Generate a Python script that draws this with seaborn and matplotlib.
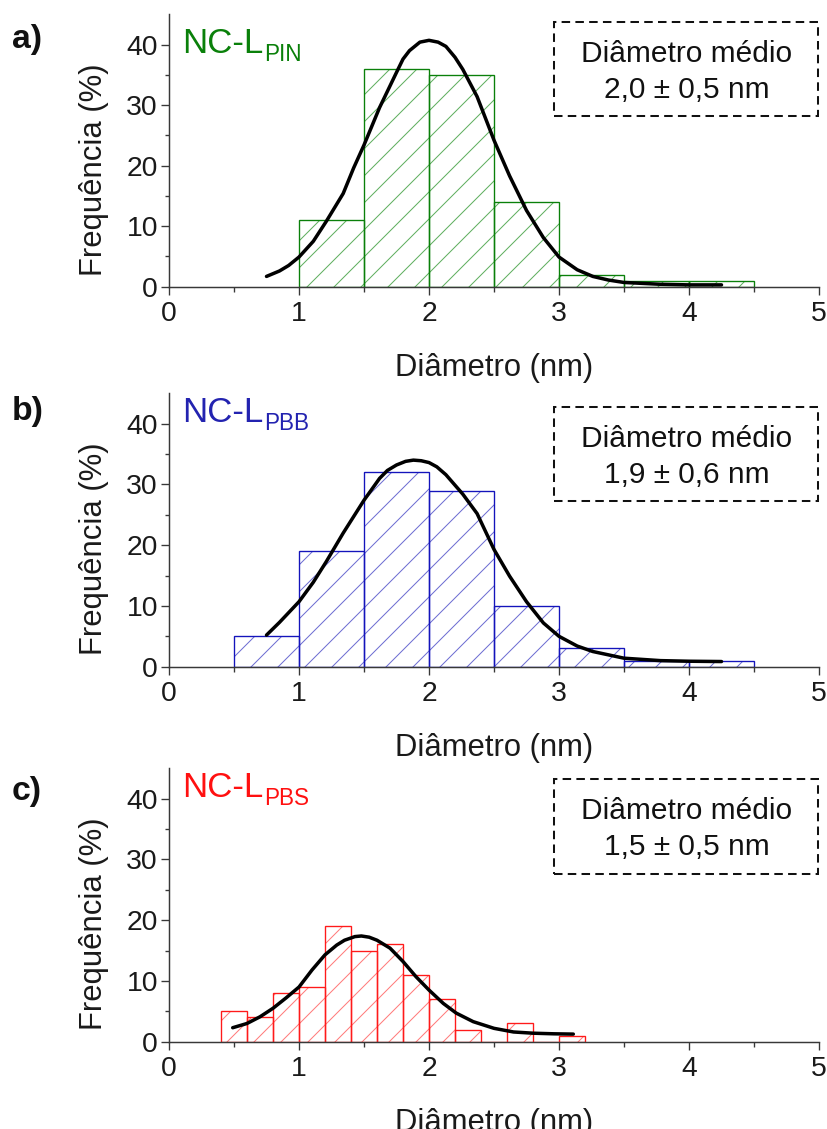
import matplotlib
matplotlib.use("Agg")
import matplotlib.pyplot as plt
import seaborn as sns
import pandas as pd
from matplotlib.patches import Rectangle
from matplotlib.ticker import FixedLocator

# ---------------- data ----------------
edges_a = [1.0, 1.5, 2.0, 2.5, 3.0, 3.5, 4.0, 4.5]
freq_a = [11, 36, 35, 14, 2, 1, 1]
fit_x_a = [0.75, 0.85, 0.92, 1.0, 1.11, 1.21, 1.34, 1.42, 1.5, 1.62, 1.75, 1.8, 1.85,
           1.93, 2.0, 2.07, 2.13, 2.2, 2.26, 2.37, 2.5, 2.62, 2.75, 2.88, 3.0, 3.14,
           3.26, 3.38, 3.5, 3.78, 4.0, 4.25]
fit_y_a = [1.7, 2.6, 3.5, 4.9, 7.5, 10.8, 15.4, 19.6, 23.4, 29.6, 35.4, 37.6, 39.0,
           40.4, 40.7, 40.4, 39.7, 37.9, 35.9, 31.4, 24.2, 18.3, 12.6, 8.1, 4.9, 2.8,
           1.7, 1.1, 0.7, 0.4, 0.3, 0.3]
label_a = ("NC-L", "PIN")
mean_a = "2,0 ± 0,5 nm"

edges_b = [0.5, 1.0, 1.5, 2.0, 2.5, 3.0, 3.5, 4.0, 4.5]
freq_b = [5, 19, 32, 29, 10, 3, 1, 1]
fit_x_b = [0.75, 0.85, 1.0, 1.11, 1.21, 1.34, 1.5, 1.62, 1.68, 1.75, 1.82, 1.88, 1.94,
           2.0, 2.06, 2.13, 2.26, 2.37, 2.5, 2.62, 2.75, 2.88, 3.0, 3.14, 3.26, 3.5,
           3.78, 4.0, 4.25]
fit_y_b = [5.2, 7.3, 10.7, 13.9, 17.3, 22.0, 27.4, 31.0, 32.3, 33.2, 33.8, 34.0, 33.9,
           33.6, 32.9, 31.6, 28.4, 25.2, 19.3, 14.9, 10.7, 7.2, 5.0, 3.4, 2.5, 1.4,
           1.0, 0.9, 0.85]
label_b = ("NC-L", "PBB")
mean_b = "1,9 ± 0,6 nm"

edges_c = [0.4, 0.6, 0.8, 1.0, 1.2, 1.4, 1.6, 1.8, 2.0, 2.2, 2.4, 2.6, 2.8, 3.0, 3.2]
freq_c = [5, 4, 8, 9, 19, 15, 16, 11, 7, 2, 0, 3, 0, 1]
fit_x_c = [0.49, 0.6, 0.7, 0.8, 0.9, 1.0, 1.1, 1.2, 1.29, 1.35, 1.43, 1.48, 1.54, 1.6,
           1.7, 1.8, 1.9, 2.0, 2.11, 2.21, 2.34, 2.5, 2.65, 2.8, 2.96, 3.11]
fit_y_c = [2.3, 3.0, 4.1, 5.5, 7.2, 9.0, 11.8, 14.3, 15.9, 16.7, 17.3, 17.4, 17.2, 16.7,
           15.4, 13.2, 10.7, 8.5, 6.3, 4.7, 3.3, 2.2, 1.6, 1.4, 1.3, 1.25]
label_c = ("NC-L", "PBS")
mean_c = "1,5 ± 0,5 nm"

panel_letters = ["a)", "b)", "c)"]
x_ticks = [0, 1, 2, 3, 4, 5]
y_ticks = [0, 10, 20, 30, 40]
x_label = "Diâmetro (nm)"
y_label = "Frequência (%)"
box_title = "Diâmetro médio"

# ---------------- style ----------------
DPI = 162
W, H = 828, 1129
sns.set_style("ticks")
plt.rcParams["font.family"] = ["Liberation Sans", "DejaVu Sans"]
plt.rcParams["hatch.linewidth"] = 0.45
plt.rcParams["axes.linewidth"] = 0.65

fig = plt.figure(figsize=(W / DPI, H / DPI), dpi=DPI)

panels = [
    dict(edges=edges_a, freq=freq_a, fx=fit_x_a, fy=fit_y_a, lab=label_a, mean=mean_a,
         edge="#0a800a", hatch="#5fae5f", text="#0a800a",
         top=14.3, bottom=286.7, title_y=38.6, letter_base=48.3, box_top=0.973),
    dict(edges=edges_b, freq=freq_b, fx=fit_x_b, fy=fit_y_b, lab=label_b, mean=mean_b,
         edge="#1414bb", hatch="#6d6dd2", text="#2323b0",
         top=393.3, bottom=666.7, title_y=40.2, letter_base=420.0, box_top=0.951),
    dict(edges=edges_c, freq=freq_c, fx=fit_x_c, fy=fit_y_c, lab=label_c, mean=mean_c,
         edge="#ff1a1a", hatch="#ff7a7a", text="#ff1010",
         top=768.3, bottom=1041.7, title_y=40.3, letter_base=800.0, box_top=0.961),
]

spine_col = "#383838"
for i, p in enumerate(panels):
    ax = fig.add_axes([169 / W, 1 - p["bottom"] / H, 650 / W, (p["bottom"] - p["top"]) / H])
    edges = list(p["edges"])
    centers = [(a + b) / 2 for a, b in zip(edges[:-1], edges[1:])]
    df = pd.DataFrame({"d": centers, "f": p["freq"]})
    curve = pd.DataFrame({"x": p["fx"], "y": p["fy"]})

    # hatch layer
    sns.histplot(data=df, x="d", weights="f", bins=edges, ax=ax, fill=True,
                 facecolor="none", edgecolor=p["hatch"], linewidth=0, hatch="//")
    # outline layer
    sns.histplot(data=df, x="d", weights="f", bins=edges, ax=ax, fill=False,
                 color=p["edge"], linewidth=0.6)
    # fitted curve
    sns.lineplot(data=curve, x="x", y="y", ax=ax, color="black", linewidth=1.55,
                 solid_capstyle="round", solid_joinstyle="round", zorder=5)

    ax.set_xlim(0, 5)
    ax.set_ylim(0, 45)
    sns.despine(ax=ax)
    for s in ("left", "bottom"):
        ax.spines[s].set_color(spine_col)
        ax.spines[s].set_linewidth(0.65)
    ax.set_xticks(x_ticks)
    ax.set_yticks(y_ticks)
    ax.xaxis.set_minor_locator(FixedLocator([0.5, 1.5, 2.5, 3.5, 4.5]))
    ax.yaxis.set_minor_locator(FixedLocator([5, 15, 25, 35]))
    ax.tick_params(which="major", direction="out", length=3.7, width=0.6,
                   color=spine_col, labelsize=12.6, labelcolor="#1a1a1a")
    ax.tick_params(axis="x", which="major", pad=2.8)
    ax.tick_params(axis="y", which="major", pad=1.2)
    ax.tick_params(which="minor", direction="out", length=2.0, width=0.6, color=spine_col)

    ax.set_xlabel(x_label, fontsize=13.8, color="#1a1a1a")
    ax.set_ylabel(y_label, fontsize=13.8, color="#1a1a1a")
    ax.xaxis.set_label_coords(0.5, -0.243)
    ax.yaxis.set_label_coords(-0.092, 0.43)

    # sample label with subscript
    t = ax.text(0.1, p["title_y"], p["lab"][0], fontsize=15.5, color=p["text"],
                va="baseline", ha="left")
    ax.annotate(p["lab"][1], xy=(1, 0), xycoords=t, xytext=(0.4, -0.3),
                textcoords="offset points", fontsize=10.0, color=p["text"],
                va="baseline", ha="left")

    # dashed box with mean diameter
    bt = p["box_top"]
    rect = Rectangle((0.592, bt - 0.346), 0.406, 0.346, transform=ax.transAxes,
                     fill=False, edgecolor="#111111", linewidth=0.9,
                     linestyle=(0, (4.2, 2.6)), clip_on=False, zorder=6)
    ax.add_patch(rect)
    ax.text(0.796, bt - 0.147, box_title, transform=ax.transAxes, fontsize=13.3,
            ha="center", va="baseline", color="#111111")
    ax.text(0.796, bt - 0.279, p["mean"], transform=ax.transAxes, fontsize=13.3,
            ha="center", va="baseline", color="#111111")

    fig.text(12 / W, 1 - p["letter_base"] / H, panel_letters[i], fontsize=15,
             fontweight="bold", ha="left", va="baseline", color="#111111")

fig.savefig("out.png", dpi=DPI)
